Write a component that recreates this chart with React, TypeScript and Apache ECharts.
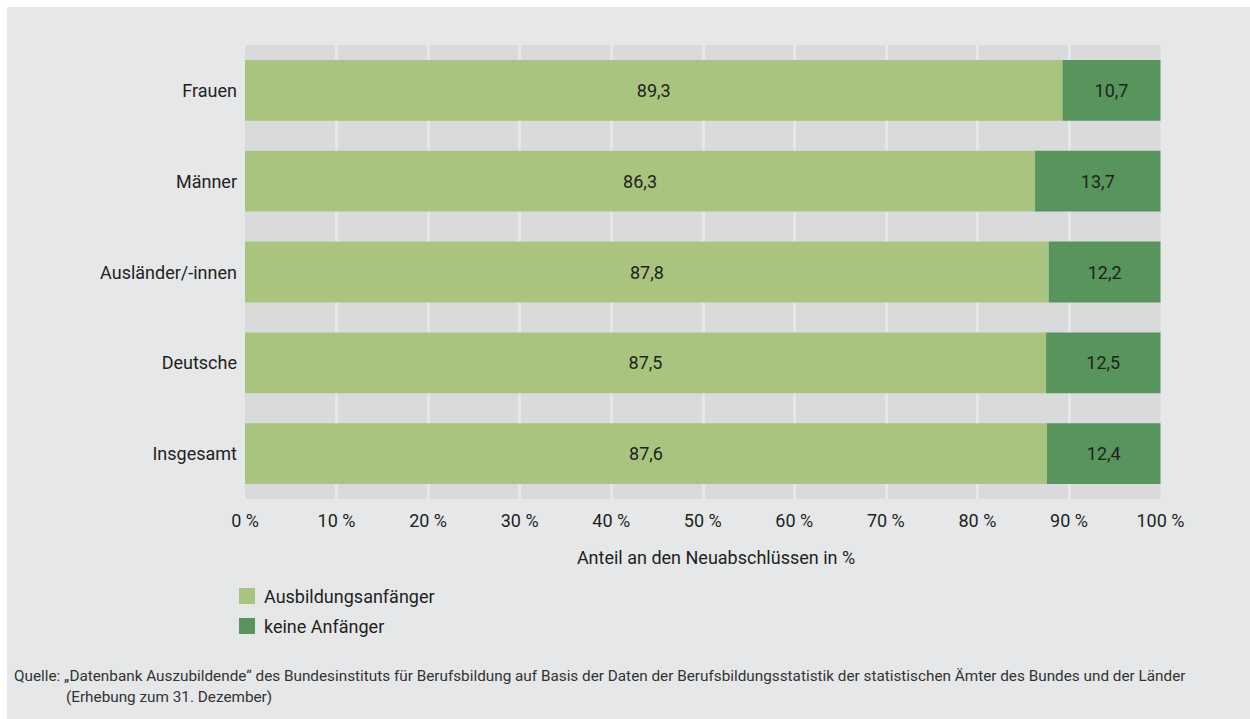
import React, { useEffect, useRef } from "react";
import * as echarts from "echarts";

const categories = ["Frauen", "Männer", "Ausländer/-innen", "Deutsche", "Insgesamt"];
const anfaenger = [89.3, 86.3, 87.8, 87.5, 87.6];
const keineAnfaenger = [10.7, 13.7, 12.2, 12.5, 12.4];
const seriesNames = ["Ausbildungsanfänger", "keine Anfänger"];
const axisTitle = "Anteil an den Neuabschlüssen in %";
const sourceLine1 =
  "Quelle: „Datenbank Auszubildende“ des Bundesinstituts für Berufsbildung auf Basis der Daten der Berufsbildungsstatistik der statistischen Ämter des Bundes und der Länder";
const sourceLine2 = "(Erhebung zum 31. Dezember)";

const FONT = "'Liberation Sans Narrow', 'Roboto', sans-serif";
const TEXT = "#231f20";

export default function App() {
  const ref = useRef<HTMLDivElement>(null);
  useEffect(() => {
    document.body.style.margin = "0";
    const chart = echarts.init(ref.current!, null, { renderer: "svg" });
    const fmt = (p: any) => Number(p.value).toFixed(1).replace(".", ",");
    chart.setOption({
      animation: false,
      backgroundColor: "#ffffff",
      textStyle: { fontFamily: FONT },
      graphic: [
        {
          type: "rect",
          z: -10,
          silent: true,
          shape: { x: 7, y: 7, width: 1250, height: 719 },
          style: { fill: "#e6e7e9" },
        },
        {
          type: "text",
          x: 716,
          y: 557,
          style: {
            text: axisTitle,
            font: `18px ${FONT}`,
            fill: TEXT,
            textAlign: "center",
            textVerticalAlign: "middle",
          },
        },
        {
          type: "text",
          x: 14,
          y: 676,
          style: {
            text: sourceLine1,
            font: `15.3px ${FONT}`,
            fill: "#333333",
            textAlign: "left",
            textVerticalAlign: "middle",
          },
        },
        {
          type: "text",
          x: 66,
          y: 697,
          style: {
            text: sourceLine2,
            font: `15.3px ${FONT}`,
            fill: "#333333",
            textAlign: "left",
            textVerticalAlign: "middle",
          },
        },
      ],
      legend: {
        orient: "vertical",
        left: 239,
        top: 587,
        padding: 0,
        itemWidth: 16,
        itemHeight: 16,
        itemGap: 12,
        icon: "rect",
        textStyle: { fontSize: 18, color: TEXT, fontFamily: FONT, padding: [0, 0, 0, 4] },
        data: seriesNames,
      },
      grid: {
        left: 245,
        right: 89.5,
        top: 45,
        height: 454,
        show: true,
        backgroundColor: "#d9dadc",
        borderWidth: 0,
      },
      xAxis: {
        type: "value",
        min: 0,
        max: 100,
        interval: 10,
        axisLine: { show: false },
        axisTick: { show: false },
        splitLine: {
          show: true,
          showMinLine: false,
          showMaxLine: false,
          lineStyle: { color: "#e6e7e9", width: 3 },
        },
        axisLabel: {
          formatter: (v: number) => `${v} %`,
          fontSize: 18,
          color: TEXT,
          fontFamily: FONT,
          margin: 12,
        },
      },
      yAxis: {
        type: "category",
        inverse: true,
        data: categories,
        axisLine: { show: false },
        axisTick: { show: false },
        axisLabel: { fontSize: 18, color: TEXT, fontFamily: FONT, margin: 8 },
      },
      series: [
        {
          name: seriesNames[0],
          type: "bar",
          stack: "total",
          data: anfaenger,
          barCategoryGap: "33%",
          itemStyle: { color: "#a9c47e" },
          label: { show: true, position: "inside", formatter: fmt, fontSize: 18, color: TEXT, fontFamily: FONT },
        },
        {
          name: seriesNames[1],
          type: "bar",
          stack: "total",
          data: keineAnfaenger,
          barCategoryGap: "33%",
          itemStyle: { color: "#57955c" },
          label: { show: true, position: "inside", formatter: fmt, fontSize: 18, color: TEXT, fontFamily: FONT },
        },
      ],
    });
    return () => chart.dispose();
  }, []);
  return <div ref={ref} style={{ width: 1250, height: 719 }} />;
}
